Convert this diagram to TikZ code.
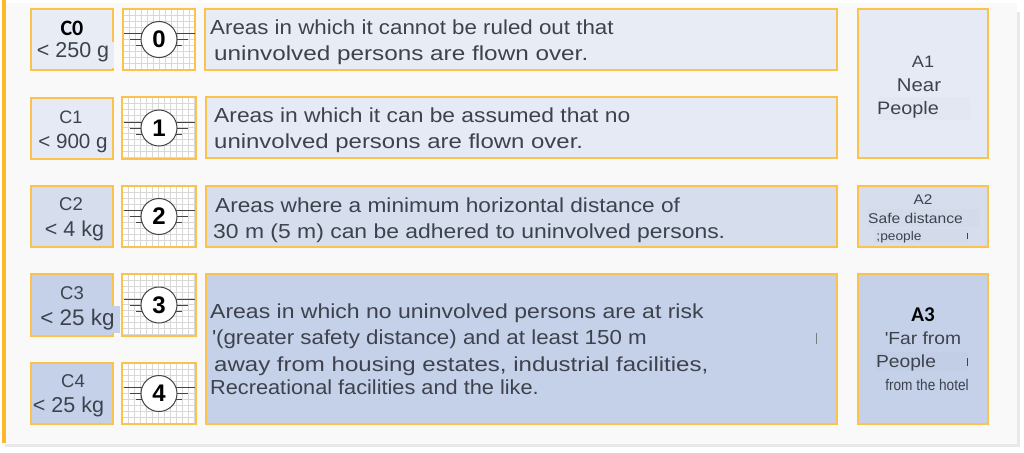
\documentclass[tikz,border=0pt]{standalone}
\usepackage{graphicx}
\usepackage{fontspec}
\setmainfont{Liberation Sans}
\newfontfamily\calib{Carlito}
\newfontfamily\widef[FakeStretch=1.1]{Liberation Sans}
\newfontfamily\narrowf[FakeStretch=0.88]{Liberation Sans}
\newcommand{\hstretch}[2]{\scalebox{#1}[1]{#2}}
\definecolor{edgeor}{HTML}{FBC24E}
\definecolor{baror}{HTML}{FDB92B}
\definecolor{pagebg}{HTML}{F9F9F9}
\definecolor{shadowc}{HTML}{E9E9E9}
\definecolor{fillA}{HTML}{E8ECF5}
\definecolor{fillB}{HTML}{E6EAF4}
\definecolor{fillC}{HTML}{D6DEEE}
\definecolor{fillD}{HTML}{C4D1E9}
\definecolor{patchA}{HTML}{E3E7F1}
\definecolor{patchC}{HTML}{D3DBEB}
\definecolor{patchD}{HTML}{C1CEE6}
\definecolor{inkc}{HTML}{3D424D}
\definecolor{gridc}{HTML}{D8D8D8}
\definecolor{symc}{HTML}{444444}
\tikzset{
  x=1pt,y=-1pt,
  boxst/.style={draw=edgeor,line width=1.1pt},
  txt/.style={text=inkc,anchor=west,inner sep=0pt,text height=14pt,text depth=4pt,font=\widef\fontsize{20.3}{24}\selectfont},
  ctr/.style={text=inkc,anchor=center,inner sep=0pt,text height=14pt,text depth=4pt},
  strokest/.style={draw=symc,line width=1pt},
}
% #1 left #2 top #3 right #4 bottom #5 digit #6 name
\newcommand{\drawicon}[6]{%
  \fill[white] (#1,#2) rectangle (#3,#4);
  \begin{scope}
    \clip (#1,#2) rectangle (#3,#4);
    \foreach \k in {1,...,12} {
      \draw[gridc,line width=0.5pt] ({#1+\k*6},#2) -- ({#1+\k*6},#4);
      \draw[gridc,line width=0.5pt] (#1,{#2+\k*6}) -- (#3,{#2+\k*6});
    }
  \end{scope}
  \draw[boxst] (#1,#2) rectangle (#3,#4);
  \coordinate (#6c) at ({(#1+#3)/2},{(#2+#4)/2});
  \draw[strokest] ([xshift=-35.5pt,yshift=6pt]#6c) -- ([xshift=35.5pt,yshift=6pt]#6c);
  \draw[strokest] ([xshift=-29pt]#6c) -- ([xshift=29pt]#6c);
  \draw[strokest] ([xshift=-23pt,yshift=-6pt]#6c) -- ([xshift=23pt,yshift=-6pt]#6c);
  \node[circle,draw=symc,line width=1pt,fill=white,minimum size=36pt,inner sep=0pt,
        font=\fontsize{24}{28}\selectfont\bfseries,text=black] (#6) at (#6c) {#5};
}
\begin{document}
\begin{tikzpicture}
\useasboundingbox (0,0) rectangle (1024,452);
\fill[white] (0,0) rectangle (1024,452);
\fill[shadowc] (5,12) rectangle (1020,447);
\fill[pagebg] (3,3) rectangle (1017,444);
\fill[baror] (2,0) rectangle (6,443);

% class boxes
\node[boxst,fill=fillA,minimum width=82pt,minimum height=61pt,inner sep=0pt] (c0) at (72,39.5) {};
\node[boxst,fill=fillB,minimum width=82pt,minimum height=61pt,inner sep=0pt] (c1) at (72,128.5) {};
\node[boxst,fill=fillC,minimum width=82pt,minimum height=61pt,inner sep=0pt] (c2) at (72,216.5) {};
\node[boxst,fill=fillD,minimum width=82pt,minimum height=62pt,inner sep=0pt] (c3) at (72,305) {};
\node[boxst,fill=fillD,minimum width=82pt,minimum height=61pt,inner sep=0pt] (c4) at (72,393.5) {};
\fill[fillA] (110,42) rectangle (114,68);
\fill[fillD] (108,306) rectangle (120,333);

\node[text=black,inner sep=0pt,font=\calib\bfseries\fontsize{22}{26}\selectfont] (c0t) at (72,28) {C0};
\node[ctr,font=\fontsize{21.5}{26}\selectfont] (c0w) at (73,53) {< 250 g};
\node[ctr,font=\fontsize{18}{22}\selectfont] (c1t) at (71,118) {C1};
\node[ctr,font=\fontsize{20.6}{26}\selectfont] (c1w) at (73,143) {< 900 g};
\node[ctr,font=\fontsize{18.5}{22}\selectfont] (c2t) at (71,205) {C2};
\node[ctr,font=\fontsize{21.5}{26}\selectfont] (c2w) at (74.5,231) {< 4 kg};
\node[ctr,font=\fontsize{18.5}{22}\selectfont] (c3t) at (72,294) {C3};
\node[ctr,font=\fontsize{22.5}{26}\selectfont] (c3w) at (77.5,320) {< 25 kg};
\node[ctr,font=\fontsize{18.5}{22}\selectfont] (c4t) at (73,382) {C4};
\node[ctr,font=\fontsize{21.5}{26}\selectfont] (c4w) at (68.5,407) {< 25 kg};

% icons
\drawicon{123}{9}{195}{70}{0}{i0}
\drawicon{122}{97}{196}{159}{1}{i1}
\drawicon{122}{186}{196}{247}{2}{i2}
\drawicon{122}{274}{196}{336}{3}{i3}
\drawicon{122}{363}{196}{424}{4}{i4}

% description boxes
\node[boxst,fill=fillA,minimum width=632pt,minimum height=61pt,inner sep=0pt] (d0) at (521,39.5) {};
\node[boxst,fill=fillB,minimum width=631pt,minimum height=61pt,inner sep=0pt] (d1) at (521.5,127.5) {};
\node[boxst,fill=fillC,minimum width=631pt,minimum height=61pt,inner sep=0pt] (d2) at (521.5,216.5) {};
\node[boxst,fill=fillD,minimum width=631pt,minimum height=150pt,inner sep=0pt] (d3) at (521.5,349) {};

\node[txt] (t01) at (210,29.5) {Areas in which it cannot be ruled out that};
\node[txt] (t02) at (214,55.5) {\hstretch{1.088}{uninvolved persons are flown over.}};
\node[txt] (t11) at (214,117.5) {\hstretch{1.022}{Areas in which it can be assumed that no}};
\node[txt] (t12) at (214,143.5) {\hstretch{1.073}{uninvolved persons are flown over.}};
\node[txt] (t21) at (215,207.5) {\hstretch{1.015}{Areas where a minimum horizontal distance of}};
\node[txt] (t22) at (213,233.5) {\hstretch{1.026}{30 m (5 m) can be adhered to uninvolved persons.}};
\node[txt] (t31) at (210,313.5) {\hstretch{1.03}{Areas in which no uninvolved persons are at risk}};
\node[txt] (t32) at (212,339.5) {\textquotesingle(greater safety distance) and at least 150 m};
\node[txt] (t33) at (214,366.5) {\hstretch{1.076}{away from housing estates, industrial facilities,}};
\node[txt] (t34) at (210,389.5) {\hstretch{0.973}{Recreational facilities and the like.}};
\draw[inkc!70,line width=0.6pt] (816,333) -- (816,344);

% area boxes
\node[boxst,fill=fillB,minimum width=130pt,minimum height=149pt,inner sep=0pt] (a1) at (923,83.5) {};
\node[boxst,fill=fillC,minimum width=130pt,minimum height=61pt,inner sep=0pt] (a2) at (923,216.5) {};
\node[boxst,fill=fillD,minimum width=130pt,minimum height=150pt,inner sep=0pt] (a3) at (923,349) {};

\fill[patchA] (878,97) rectangle (970,120);
\fill[patchC] (868,209) rectangle (980,227);
\fill[patchC] (874,229) rectangle (968,242);
\fill[patchD] (876,352) rectangle (968,371);

\node[ctr,font=\widef\fontsize{16.5}{20}\selectfont] (a1a) at (923,62) {A1};
\node[ctr,font=\widef\fontsize{18.5}{22}\selectfont] (a1b) at (919,86) {Near};
\node[ctr,font=\widef\fontsize{18}{22}\selectfont] (a1c) at (908,109) {People};
\node[ctr,font=\widef\fontsize{14}{16}\selectfont] (a2a) at (923,199) {A2};
\node[ctr,font=\widef\fontsize{14.2}{16}\selectfont] (a2b) at (915.5,218) {Safe distance};
\node[ctr,font=\widef\fontsize{12.5}{14}\selectfont] (a2c) at (899,235) {;people};
\draw[inkc,line width=0.6pt] (967,233) -- (967,239);
\node[text=black,inner sep=0pt,font=\calib\bfseries\fontsize{21}{25}\selectfont] (a3a) at (923,315) {A3};
\node[ctr,font=\widef\fontsize{17.5}{20}\selectfont] (a3b) at (923,339) {\textquotesingle Far from};
\node[ctr,font=\widef\fontsize{17.5}{20}\selectfont] (a3c) at (906,362) {People};
\draw[inkc,line width=0.9pt] (967,358) -- (967,366);
\node[ctr,font=\narrowf\fontsize{15.5}{18}\selectfont] (a3d) at (927,385) {from the hotel};
\end{tikzpicture}
\end{document}
